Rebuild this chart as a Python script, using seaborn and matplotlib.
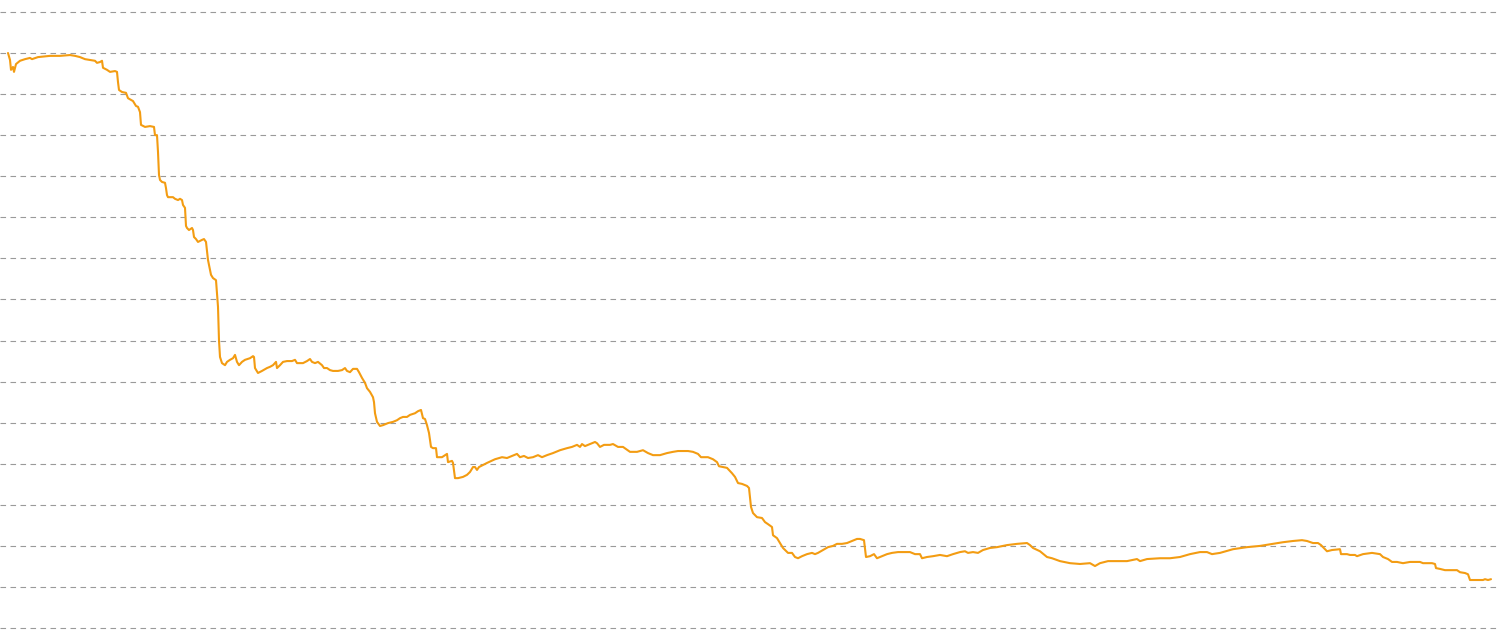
import numpy as np
import pandas as pd
import matplotlib
matplotlib.use("Agg")
import matplotlib.pyplot as plt
import seaborn as sns

# day index and value
days = [0, 2, 3, 5, 6, 8, 12, 17, 22, 24, 30, 42, 52, 62, 67, 72, 77, 82, 87, 89,
        92, 94, 95, 99, 102, 107, 109, 110, 111, 114, 118, 120, 125, 128, 130, 132, 133, 137, 142, 146,
        147, 149, 150, 151, 152, 154, 157, 158, 159, 160, 165, 167, 170, 172, 174, 175, 177, 178, 179, 181,
        184, 185, 186, 188, 190, 194, 196, 198, 200, 203, 205, 208, 210, 211, 212, 214, 217, 219, 222, 225,
        227, 229, 231, 234, 237, 242, 245, 246, 247, 250, 254, 259, 262, 265, 268, 269, 272, 275, 279, 284,
        287, 289, 292, 295, 299, 302, 304, 307, 310, 314, 316, 319, 322, 325, 330, 334, 337, 339, 342, 345,
        349, 351, 354, 357, 359, 362, 365, 366, 367, 369, 372, 375, 380, 385, 389, 392, 395, 399, 402, 407,
        410, 413, 415, 417, 419, 421, 423, 425, 428, 429, 434, 439, 440, 444, 445, 447, 450, 455, 459, 462,
        465, 467, 469, 471, 479, 487, 494, 499, 504, 509, 512, 516, 520, 525, 530, 534, 539, 545, 552, 559,
        564, 569, 572, 574, 577, 582, 587, 589, 592, 596, 602, 605, 610, 615, 622, 629, 635, 640, 645, 652,
        659, 665, 670, 675, 680, 685, 690, 693, 700, 705, 709, 711, 715, 719, 724, 727, 730, 734, 739, 741,
        743, 745, 749, 754, 757, 760, 764, 765, 769, 772, 775, 780, 784, 787, 790, 794, 799, 804, 807, 810,
        815, 820, 825, 829, 834, 839, 844, 849, 852, 856, 858, 862, 866, 869, 874, 879, 884, 890, 897, 902,
        907, 912, 914, 919, 925, 932, 939, 945, 952, 957, 960, 965, 970, 975, 982, 989, 999, 1009, 1019, 1022,
        1025, 1032, 1039, 1044, 1052, 1062, 1072, 1082, 1087, 1092, 1100, 1112, 1119, 1129, 1132, 1139, 1152, 1162, 1172, 1182,
        1192, 1199, 1204, 1212, 1225, 1239, 1252, 1265, 1275, 1285, 1294, 1299, 1305, 1310, 1313, 1315, 1317, 1319, 1324, 1332,
        1333, 1339, 1342, 1347, 1349, 1355, 1364, 1372, 1375, 1380, 1384, 1389, 1395, 1402, 1412, 1415, 1419, 1424, 1427, 1428,
        1432, 1437, 1449, 1452, 1457, 1460, 1462, 1469, 1475, 1477, 1480, 1483]

values = [1.400, 1.383, 1.359, 1.366, 1.354, 1.373, 1.381, 1.385, 1.388, 1.385, 1.390, 1.393, 1.393, 1.395, 1.393, 1.390, 1.385, 1.383, 1.381, 1.376,
          1.378, 1.381, 1.364, 1.359, 1.354, 1.356, 1.354, 1.329, 1.310, 1.305, 1.303, 1.290, 1.283, 1.271, 1.269, 1.256, 1.225, 1.220, 1.222, 1.220,
          1.200, 1.200, 1.159, 1.103, 1.091, 1.086, 1.084, 1.071, 1.054, 1.049, 1.049, 1.045, 1.042, 1.045, 1.042, 1.030, 1.023, 0.979, 0.974, 0.969,
          0.974, 0.969, 0.952, 0.947, 0.940, 0.945, 0.947, 0.940, 0.896, 0.860, 0.852, 0.847, 0.782, 0.700, 0.660, 0.645, 0.640, 0.648, 0.653, 0.657,
          0.665, 0.648, 0.640, 0.648, 0.653, 0.657, 0.662, 0.660, 0.633, 0.621, 0.626, 0.633, 0.636, 0.640, 0.648, 0.633, 0.640, 0.648, 0.650, 0.650,
          0.653, 0.645, 0.645, 0.645, 0.650, 0.655, 0.648, 0.645, 0.648, 0.640, 0.633, 0.633, 0.628, 0.626, 0.626, 0.628, 0.633, 0.626, 0.623, 0.631,
          0.631, 0.623, 0.609, 0.597, 0.584, 0.575, 0.562, 0.550, 0.523, 0.502, 0.492, 0.494, 0.499, 0.502, 0.506, 0.511, 0.514, 0.514, 0.519, 0.523,
          0.528, 0.531, 0.511, 0.509, 0.494, 0.475, 0.441, 0.438, 0.438, 0.416, 0.416, 0.424, 0.404, 0.407, 0.402, 0.365, 0.365, 0.368, 0.373, 0.380,
          0.392, 0.392, 0.385, 0.392, 0.402, 0.411, 0.416, 0.414, 0.419, 0.424, 0.416, 0.419, 0.414, 0.416, 0.421, 0.416, 0.421, 0.426, 0.433, 0.438,
          0.441, 0.446, 0.441, 0.448, 0.443, 0.448, 0.453, 0.450, 0.441, 0.446, 0.446, 0.448, 0.441, 0.441, 0.429, 0.429, 0.433, 0.426, 0.421, 0.421,
          0.426, 0.429, 0.431, 0.431, 0.431, 0.429, 0.424, 0.416, 0.416, 0.411, 0.404, 0.394, 0.392, 0.390, 0.377, 0.368, 0.353, 0.351, 0.346, 0.341,
          0.295, 0.280, 0.270, 0.268, 0.258, 0.253, 0.246, 0.226, 0.219, 0.207, 0.195, 0.183, 0.183, 0.173, 0.170, 0.175, 0.180, 0.183, 0.180, 0.183,
          0.190, 0.197, 0.200, 0.205, 0.205, 0.207, 0.212, 0.217, 0.217, 0.214, 0.173, 0.175, 0.180, 0.170, 0.175, 0.180, 0.183, 0.185, 0.185, 0.185,
          0.180, 0.180, 0.170, 0.173, 0.175, 0.178, 0.175, 0.180, 0.185, 0.187, 0.183, 0.185, 0.183, 0.190, 0.195, 0.197, 0.202, 0.205, 0.207, 0.202,
          0.195, 0.187, 0.173, 0.170, 0.163, 0.158, 0.156, 0.158, 0.151, 0.158, 0.163, 0.163, 0.163, 0.168, 0.163, 0.168, 0.170, 0.170, 0.173, 0.180,
          0.185, 0.185, 0.180, 0.183, 0.192, 0.197, 0.200, 0.205, 0.209, 0.212, 0.214, 0.212, 0.207, 0.207, 0.202, 0.197, 0.192, 0.187, 0.190, 0.192,
          0.180, 0.180, 0.178, 0.178, 0.175, 0.180, 0.183, 0.180, 0.173, 0.168, 0.161, 0.161, 0.158, 0.161, 0.161, 0.158, 0.158, 0.158, 0.156, 0.146,
          0.144, 0.141, 0.141, 0.136, 0.134, 0.131, 0.117, 0.117, 0.117, 0.119, 0.117, 0.119]

grid_levels = [round(0.1 * i, 1) for i in range(16)]

df = pd.DataFrame({"day": days, "value": values})

sns.set_theme(style="white")
fig = plt.figure(figsize=(15, 6.33), dpi=100)
ax = fig.add_axes([0, 0, 1, 1])

sns.lineplot(data=df, x="day", y="value", ax=ax, color="#F39C12", linewidth=1.5)

ax.set_xlim(-8, 1492)
ax.set_ylim(-0.012, 1.529)
ax.set_yticks(grid_levels)
ax.set_xticks([])
ax.yaxis.grid(True, color="#9a9a9a", linestyle=(0, (5, 4)), linewidth=0.8)
ax.set_axisbelow(True)
ax.tick_params(left=False, bottom=False, labelleft=False, labelbottom=False)
ax.set_xlabel("")
ax.set_ylabel("")
for s in ax.spines.values():
    s.set_visible(False)

fig.savefig("out.png", dpi=100, facecolor="white")
